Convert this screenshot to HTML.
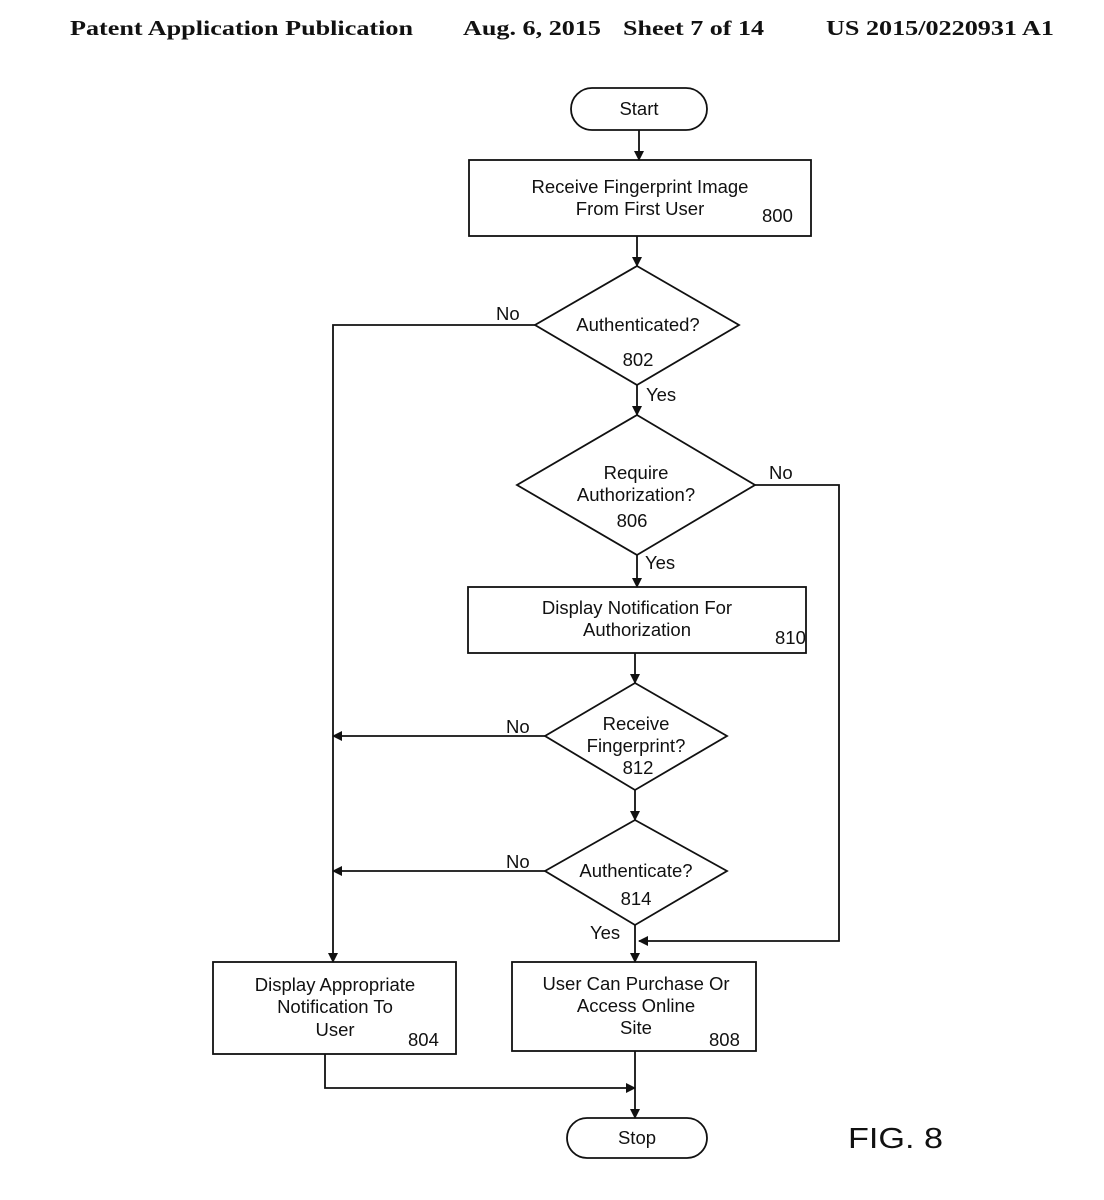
<!DOCTYPE html>
<html><head><meta charset="utf-8"><style>
body{margin:0;background:#fff}
svg{display:block}
text{font-family:"Liberation Sans",sans-serif;font-size:18.5px;fill:#111}
.h{font-family:"Liberation Serif",serif;font-weight:bold;font-size:21px}
</style></head><body>
<svg width="1104" height="1200" viewBox="0 0 1104 1200" xmlns="http://www.w3.org/2000/svg">
<defs><marker id="a" markerWidth="10" markerHeight="10" refX="9" refY="5" orient="auto" markerUnits="userSpaceOnUse"><path d="M0,0 L10,5 L0,10 z" fill="#111"/></marker></defs>
<text class="h" x="70" y="35" textLength="343" lengthAdjust="spacingAndGlyphs">Patent Application Publication</text>
<text class="h" x="463" y="35" textLength="138" lengthAdjust="spacingAndGlyphs">Aug. 6, 2015</text>
<text class="h" x="623" y="35" textLength="141" lengthAdjust="spacingAndGlyphs">Sheet 7 of 14</text>
<text class="h" x="826" y="35" textLength="228" lengthAdjust="spacingAndGlyphs">US 2015/0220931 A1</text>
<g fill="none" stroke="#111" stroke-width="1.8">
<rect x="571" y="88" width="136" height="42" rx="21"/>
<rect x="469" y="160" width="342" height="76"/>
<polygon points="637,266 739,325 637,385 535,325"/>
<polygon points="637,415 755,485 637,555 517,485"/>
<rect x="468" y="587" width="338" height="66"/>
<polygon points="635,683 727,736 635,790 545,736"/>
<polygon points="635,820 727,871 635,925 545,871"/>
<rect x="213" y="962" width="243" height="92"/>
<rect x="512" y="962" width="244" height="89"/>
<rect x="567" y="1118" width="140" height="40" rx="20"/>
<g marker-end="url(#a)">
<line x1="639" y1="130" x2="639" y2="160"/>
<line x1="637" y1="236" x2="637" y2="266"/>
<polyline points="535,325 333,325 333,962"/>
<line x1="637" y1="385" x2="637" y2="415"/>
<polyline points="755,485 839,485 839,941 639,941"/>
<line x1="637" y1="555" x2="637" y2="587"/>
<line x1="635" y1="653" x2="635" y2="683"/>
<line x1="545" y1="736" x2="333" y2="736"/>
<line x1="635" y1="790" x2="635" y2="820"/>
<line x1="545" y1="871" x2="333" y2="871"/>
<line x1="635" y1="925" x2="635" y2="962"/>
<line x1="635" y1="1051" x2="635" y2="1118"/>
<polyline points="325,1054 325,1088 635,1088"/>
</g></g>
<g text-anchor="middle">
<text x="639" y="115">Start</text>
<text x="640" y="193">Receive Fingerprint Image</text>
<text x="640" y="215">From First User</text>
<text x="638" y="331">Authenticated?</text>
<text x="638" y="366">802</text>
<text x="636" y="479">Require</text>
<text x="636" y="501">Authorization?</text>
<text x="632" y="527">806</text>
<text x="637" y="614">Display Notification For</text>
<text x="637" y="636">Authorization</text>
<text x="636" y="730">Receive</text>
<text x="636" y="752">Fingerprint?</text>
<text x="638" y="774">812</text>
<text x="636" y="877">Authenticate?</text>
<text x="636" y="905">814</text>
<text x="335" y="991">Display Appropriate</text>
<text x="335" y="1013">Notification To</text>
<text x="335" y="1036">User</text>
<text x="636" y="990">User Can Purchase Or</text>
<text x="636" y="1012">Access Online</text>
<text x="636" y="1034">Site</text>
<text x="637" y="1144">Stop</text>
</g>
<text x="762" y="222">800</text>
<text x="775" y="644">810</text>
<text x="408" y="1046">804</text>
<text x="709" y="1046">808</text>
<text x="496" y="320">No</text>
<text x="646" y="401">Yes</text>
<text x="769" y="479">No</text>
<text x="645" y="569">Yes</text>
<text x="506" y="733">No</text>
<text x="506" y="868">No</text>
<text x="590" y="939">Yes</text>
<text x="848" y="1148" style="font-size:29px" textLength="95" lengthAdjust="spacingAndGlyphs">FIG. 8</text>
</svg>
</body></html>
